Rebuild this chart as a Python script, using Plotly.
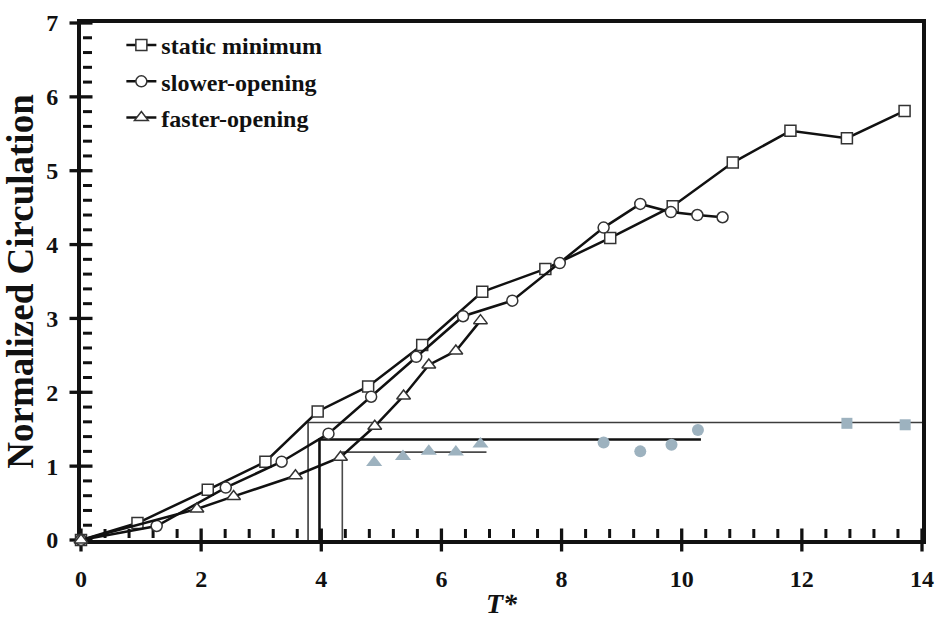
import numpy as np
import plotly.graph_objects as go

# Normalized circulation vs. formation time T*
static_t = [0.0, 0.94, 2.11, 3.07, 3.94, 4.78, 5.68, 6.68, 7.73, 8.81, 9.85, 10.85, 11.81, 12.75, 13.71]
static_c = [0.0, 0.23, 0.68, 1.06, 1.74, 2.08, 2.64, 3.36, 3.67, 4.09, 4.52, 5.11, 5.54, 5.44, 5.81]

slower_t = [0.0, 1.26, 2.41, 3.34, 4.12, 4.83, 5.58, 6.36, 7.18, 7.97, 8.70, 9.31, 9.82, 10.26, 10.68]
slower_c = [0.0, 0.19, 0.71, 1.06, 1.44, 1.94, 2.48, 3.03, 3.24, 3.75, 4.23, 4.55, 4.44, 4.40, 4.37]

faster_t = [0.0, 1.93, 2.54, 3.57, 4.32, 4.89, 5.37, 5.79, 6.24, 6.65]
faster_c = [0.0, 0.42, 0.59, 0.87, 1.12, 1.54, 1.95, 2.37, 2.56, 2.97]

# Pinch-off (separated vortex ring) circulation, filled symbols
ring_static_t = [12.75, 13.72]
ring_static_c = [1.58, 1.56]
ring_slower_t = [8.70, 9.31, 9.83, 10.27]
ring_slower_c = [1.32, 1.20, 1.29, 1.49]
ring_faster_t = [4.88, 5.36, 5.79, 6.24, 6.65]
ring_faster_c = [1.05, 1.13, 1.20, 1.19, 1.30]

# Mean ring circulation and the formation number where the total reaches it
mean_level = [1.59, 1.36, 1.19]
formation_t = [3.78, 3.97, 4.35]
level_end_t = [14.0, 10.32, 6.75]
level_colors = ["#3c3c3c", "#111111", "#4a4a4a"]
level_widths = [1.6, 2.6, 1.6]

x_ticks = [0, 2, 4, 6, 8, 10, 12, 14]
y_ticks = [0, 1, 2, 3, 4, 5, 6, 7]
x_minor_step = 0.4
y_minor_step = 0.2

SERIF = "Liberation Serif, Times New Roman, serif"
GREY = "#9db2bf"
INK = "#111111"

W, H = 942, 626
M = dict(l=81, r=20, t=23, b=86)
X_RANGE = [x_ticks[0], x_ticks[-1]]
Y_RANGE = [y_ticks[0], y_ticks[-1]]
# data units per pixel, used to sit the minor tick marks just inside the frame
x_per_px = (X_RANGE[1] - X_RANGE[0]) / (W - M["l"] - M["r"])
y_per_px = (Y_RANGE[1] - Y_RANGE[0]) / (H - M["t"] - M["b"])

fig = go.Figure()

# Reference lines: vertical at formation number, horizontal at mean ring level
for lvl, t0, t1, col, w in zip(mean_level, formation_t, level_end_t, level_colors, level_widths):
    fig.add_trace(go.Scatter(
        x=[t0, t0, t1], y=[0, lvl, lvl], mode="lines",
        line=dict(color=col, width=w), showlegend=False, hoverinfo="skip",
    ))

# Filled ring symbols
for xs, ys, sym, sz in [(ring_static_t, ring_static_c, "square", 11),
                        (ring_slower_t, ring_slower_c, "circle", 12),
                        (ring_faster_t, ring_faster_c, "triangle-up", 14)]:
    fig.add_trace(go.Scatter(
        x=xs, y=ys, mode="markers", showlegend=False,
        marker=dict(symbol=sym, size=sz, color=GREY, line=dict(width=0)),
    ))

# Tick marks: major ticks cross the frame, minor ticks point inward
x_minor = [v for v in np.arange(X_RANGE[0], X_RANGE[1] + 1e-9, x_minor_step)
           if min(abs(v - t) for t in x_ticks) > 1e-6]
y_minor = [v for v in np.arange(Y_RANGE[0], Y_RANGE[1] + 1e-9, y_minor_step)
           if min(abs(v - t) for t in y_ticks) > 1e-6]
MAJOR_LEN, MINOR_LEN = 23, 9
tick_marks = [
    (x_ticks, [Y_RANGE[0]] * len(x_ticks), "line-ns", MAJOR_LEN, 3.3),
    (x_minor, [Y_RANGE[0] + (2 + MINOR_LEN / 2) * y_per_px] * len(x_minor), "line-ns", MINOR_LEN, 3),
    ([X_RANGE[0]] * len(y_ticks), y_ticks, "line-ew", MAJOR_LEN, 3.3),
    ([X_RANGE[0] + (2 + MINOR_LEN / 2) * x_per_px] * len(y_minor), y_minor, "line-ew", MINOR_LEN, 3),
]
for xs, ys, sym, length, lw in tick_marks:
    fig.add_trace(go.Scatter(
        x=xs, y=ys, mode="markers", showlegend=False, hoverinfo="skip", cliponaxis=False,
        marker=dict(symbol=sym, size=length / 1.4, line=dict(color=INK, width=lw)),
    ))

# Total circulation curves
for name, xs, ys, sym, sz in [("static minimum", static_t, static_c, "square", 11),
                              ("slower-opening", slower_t, slower_c, "circle", 11),
                              ("faster-opening", faster_t, faster_c, "triangle-up", 12)]:
    fig.add_trace(go.Scatter(
        x=xs, y=ys, name=name, mode="lines+markers", legendgroup=name,
        line=dict(color=INK, width=2.5),
        marker=dict(symbol=sym, size=sz, color="white", line=dict(color="#333333", width=1.5)),
        cliponaxis=False,
    ))

tick_font = dict(family=SERIF, size=24, color=INK, weight="bold")

fig.update_layout(
    template="none",
    width=W, height=H, margin=M,
    paper_bgcolor="white", plot_bgcolor="white",
    showlegend=True,
    legend=dict(
        x=0.048, y=1.0, xanchor="left", yanchor="top",
        font=dict(family=SERIF, size=24, color=INK, weight="bold"),
        bgcolor="rgba(0,0,0,0)", tracegroupgap=2, traceorder="grouped",
    ),
    xaxis=dict(
        range=X_RANGE, tickmode="array", tickvals=x_ticks, ticktext=[str(v) for v in x_ticks],
        showgrid=False, zeroline=False, automargin=False,
        showline=True, linecolor=INK, linewidth=4, mirror=True, ticks="",
        tickfont=tick_font, ticklabelstandoff=14,
        title=dict(text="<i>T*</i>", font=dict(family=SERIF, size=28, color=INK, weight="bold"),
                   standoff=4),
        layer="below traces",
    ),
    yaxis=dict(
        range=Y_RANGE, tickmode="array", tickvals=y_ticks, ticktext=[str(v) for v in y_ticks],
        showgrid=False, zeroline=False, automargin=False,
        showline=True, linecolor=INK, linewidth=4, mirror=True, ticks="",
        tickfont=tick_font, ticklabelstandoff=14,
        title=dict(text="Normalized Circulation",
                   font=dict(family=SERIF, size=37, color=INK, weight="bold"), standoff=6),
        layer="below traces",
    ),
)

fig.write_html("out.html")
